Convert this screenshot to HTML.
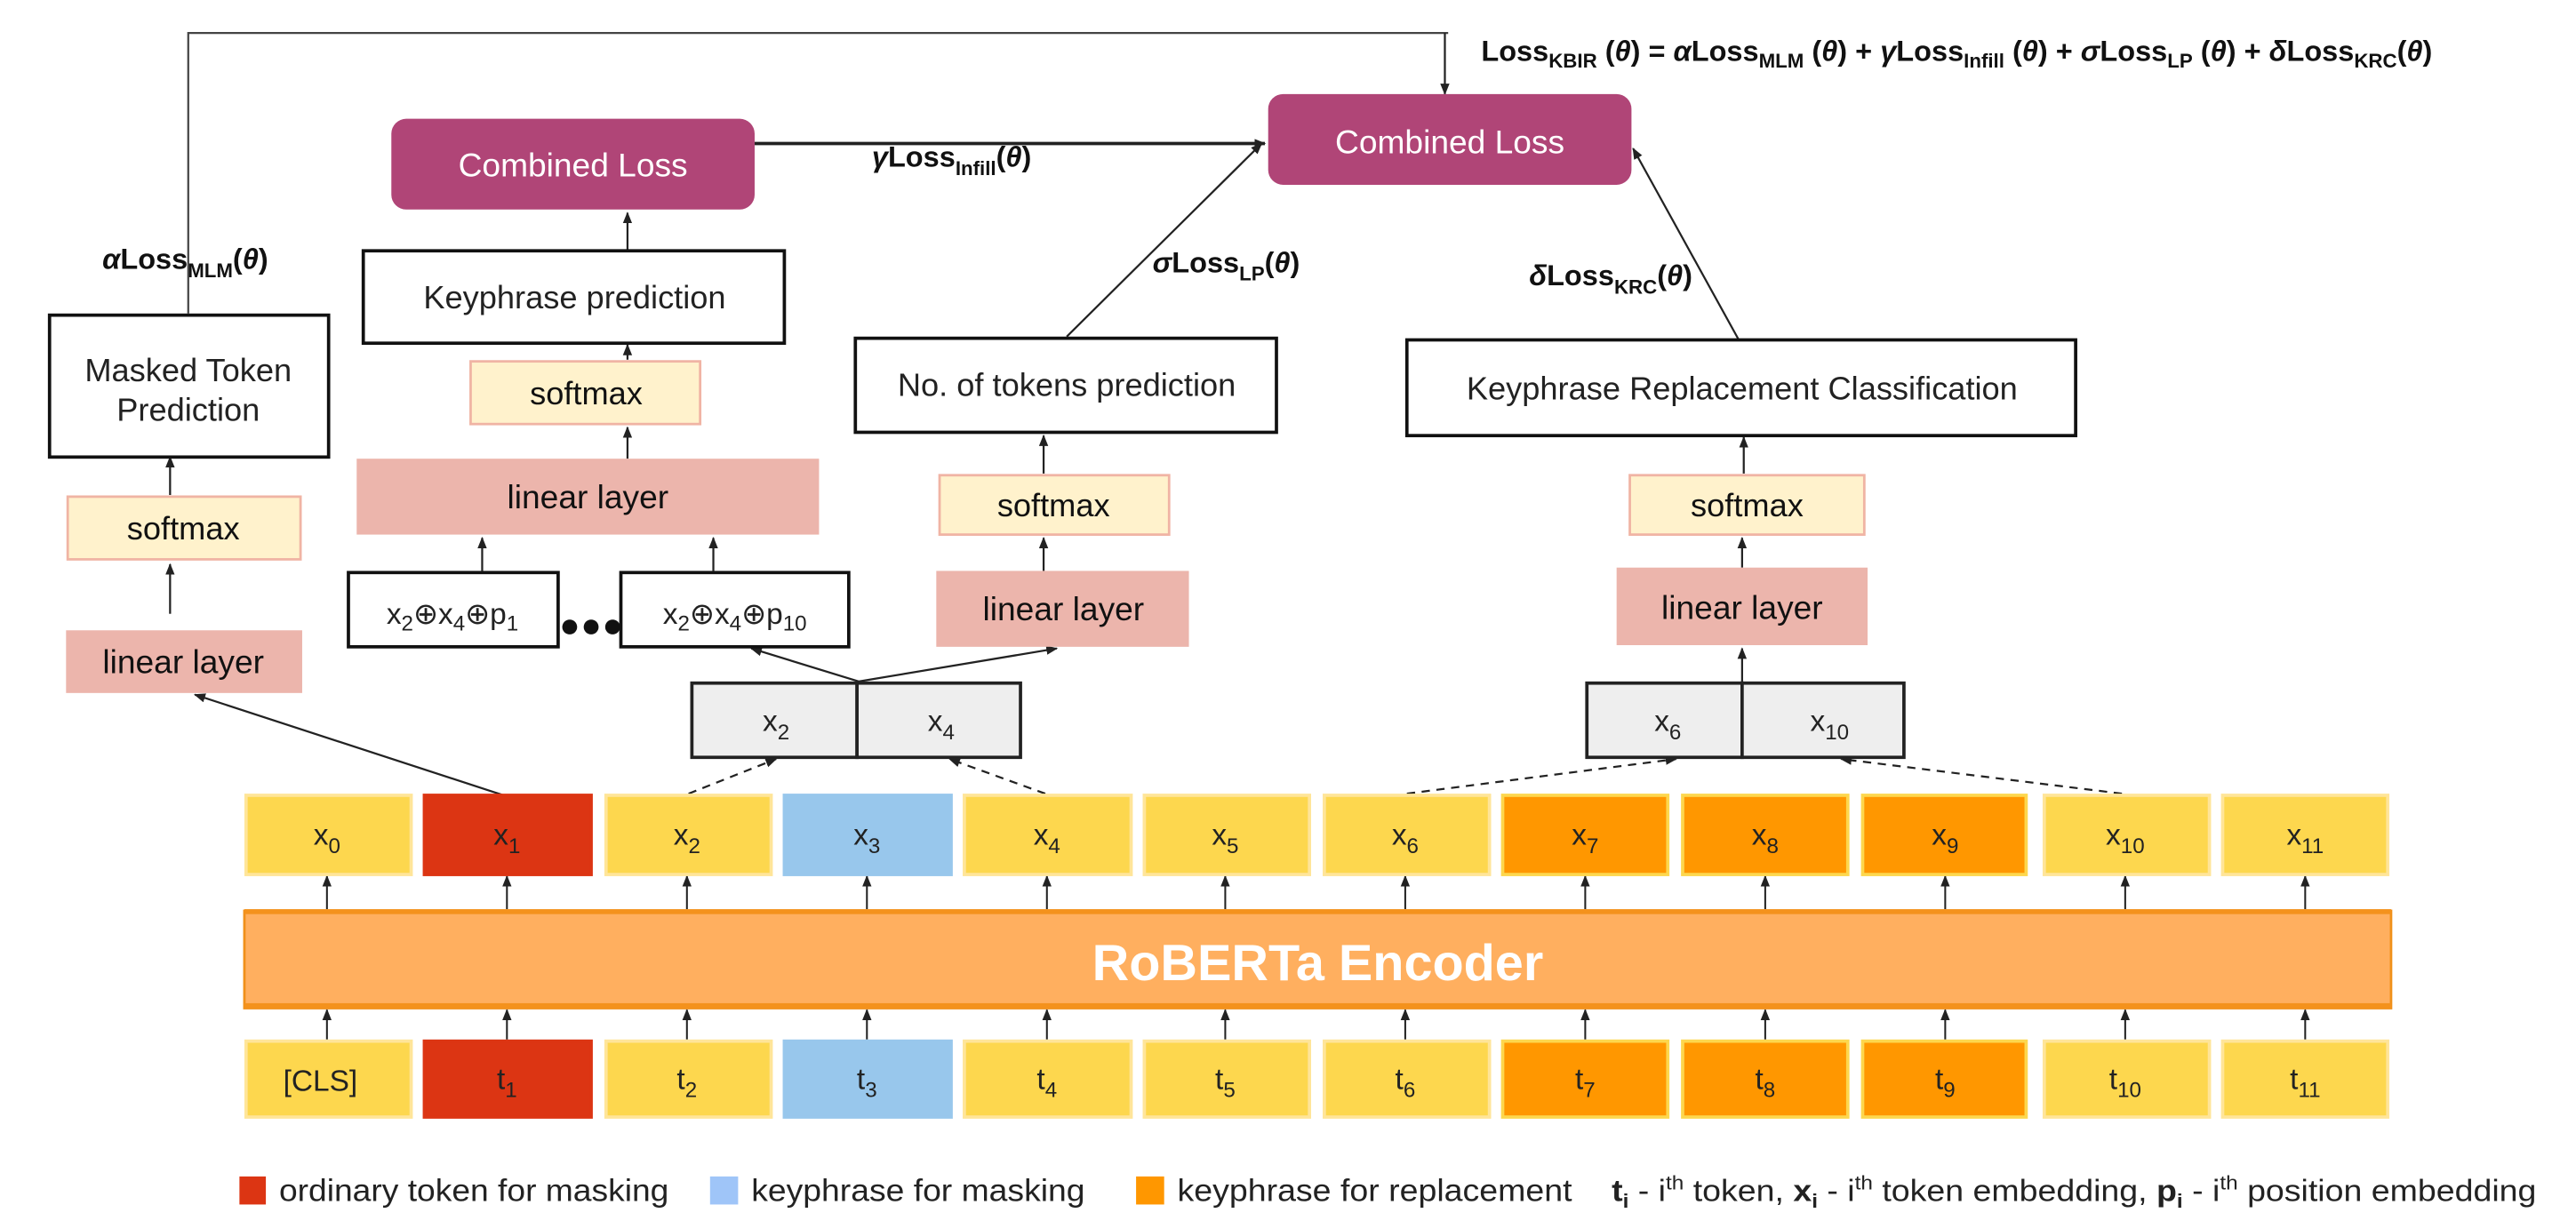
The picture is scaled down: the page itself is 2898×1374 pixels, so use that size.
<!DOCTYPE html>
<html><head><meta charset="utf-8"><style>
html,body{margin:0;padding:0;background:#fff;}
svg{display:block;}
text{font-family:"Liberation Sans",Arial,sans-serif;}
</style></head><body>
<svg width="2898" height="1374" viewBox="0 0 1560 740" preserveAspectRatio="none" xmlns="http://www.w3.org/2000/svg">
<defs>
<marker id="a" viewBox="0 0 10 10" refX="9" refY="5" markerWidth="7" markerHeight="7" orient="auto-start-reverse" markerUnits="userSpaceOnUse"><path d="M0,1 L10,5 L0,9 z" fill="#222"/></marker>
</defs>
<g stroke="#222" stroke-width="1.2" fill="none">
<polyline points="114,190 114,20 877,20" stroke="#444"/>
<line x1="875" y1="20" x2="875" y2="57" marker-end="url(#a)"/>
<line x1="457" y1="87" x2="766" y2="87" stroke-width="2" marker-end="url(#a)"/>
<line x1="646" y1="204" x2="764" y2="87" marker-end="url(#a)"/>
<line x1="1053" y1="206" x2="989" y2="90" marker-end="url(#a)"/>
<line x1="380" y1="152" x2="380" y2="129" marker-end="url(#a)"/>
<line x1="380" y1="218" x2="380" y2="209" marker-end="url(#a)"/>
<line x1="380" y1="278" x2="380" y2="259" marker-end="url(#a)"/>
<line x1="292" y1="346" x2="292" y2="326" marker-end="url(#a)"/>
<line x1="432" y1="346" x2="432" y2="326" marker-end="url(#a)"/>
<line x1="103" y1="300" x2="103" y2="277" marker-end="url(#a)"/>
<line x1="103" y1="372" x2="103" y2="342" marker-end="url(#a)"/>
<line x1="305" y1="482" x2="118" y2="421" marker-end="url(#a)"/>
<line x1="632" y1="287" x2="632" y2="264" marker-end="url(#a)"/>
<line x1="632" y1="346" x2="632" y2="326" marker-end="url(#a)"/>
<line x1="520" y1="413" x2="455" y2="393" marker-end="url(#a)"/>
<line x1="520" y1="413" x2="640" y2="393" marker-end="url(#a)"/>
<line x1="1056" y1="287" x2="1056" y2="265" marker-end="url(#a)"/>
<line x1="1055" y1="344" x2="1055" y2="326" marker-end="url(#a)"/>
<line x1="1055" y1="414" x2="1055" y2="393" marker-end="url(#a)"/>
<g stroke-dasharray="5,4">
<line x1="417" y1="481" x2="470" y2="460" marker-end="url(#a)"/>
<line x1="633" y1="481" x2="575" y2="460" marker-end="url(#a)"/>
<line x1="852" y1="481" x2="1015" y2="460" marker-end="url(#a)"/>
<line x1="1285" y1="481" x2="1115" y2="460" marker-end="url(#a)"/>
</g>
</g>
<rect x="237" y="72" width="220" height="55" rx="9" fill="#b04577"/>
<text x="347" y="107" font-size="20" fill="#fff" text-anchor="middle">Combined Loss</text>
<rect x="768" y="57" width="220" height="55" rx="9" fill="#b04577"/>
<text x="878" y="93" font-size="20" fill="#fff" text-anchor="middle">Combined Loss</text>
<text x="897" y="37" font-size="17.5" font-weight="bold" fill="#111">Loss<tspan font-size="12" dy="4">KBIR</tspan><tspan dy="-4"> (</tspan><tspan font-style="italic">θ</tspan>) = <tspan font-style="italic">α</tspan>Loss<tspan font-size="12" dy="4">MLM</tspan><tspan dy="-4"> (</tspan><tspan font-style="italic">θ</tspan>) + <tspan font-style="italic">γ</tspan>Loss<tspan font-size="12" dy="4">Infill</tspan><tspan dy="-4"> (</tspan><tspan font-style="italic">θ</tspan>) + <tspan font-style="italic">σ</tspan>Loss<tspan font-size="12" dy="4">LP</tspan><tspan dy="-4"> (</tspan><tspan font-style="italic">θ</tspan>) + <tspan font-style="italic">δ</tspan>Loss<tspan font-size="12" dy="4">KRC</tspan><tspan dy="-4">(</tspan><tspan font-style="italic">θ</tspan>)</text>
<g font-size="17.5" font-weight="bold" fill="#111">
<text x="528" y="101"><tspan font-style="italic">γ</tspan>Loss<tspan font-size="12" dy="5">Infill</tspan><tspan dy="-5">(</tspan><tspan font-style="italic">θ</tspan>)</text>
<text x="62" y="163"><tspan font-style="italic">α</tspan>Loss<tspan font-size="12" dy="5">MLM</tspan><tspan dy="-5">(</tspan><tspan font-style="italic">θ</tspan>)</text>
<text x="698" y="165"><tspan font-style="italic">σ</tspan>Loss<tspan font-size="12" dy="5">LP</tspan><tspan dy="-5">(</tspan><tspan font-style="italic">θ</tspan>)</text>
<text x="926" y="173"><tspan font-style="italic">δ</tspan>Loss<tspan font-size="12" dy="5">KRC</tspan><tspan dy="-5">(</tspan><tspan font-style="italic">θ</tspan>)</text>
</g>
<g fill="#fff" stroke="#111" stroke-width="2">
<rect x="30" y="191" width="169" height="86"/>
<rect x="220" y="152" width="255" height="56"/>
<rect x="518" y="205" width="255" height="57"/>
<rect x="852" y="206" width="405" height="58"/>
<rect x="211" y="347" width="127" height="45"/>
<rect x="376" y="347" width="138" height="45"/>
</g>
<g font-size="19.5" fill="#222" text-anchor="middle">
<text x="114" y="231">Masked Token</text>
<text x="114" y="255">Prediction</text>
<text x="348" y="187">Keyphrase prediction</text>
<text x="646" y="240">No. of tokens prediction</text>
<text x="1055" y="242">Keyphrase Replacement Classification</text>
</g>
<g font-size="18" fill="#222" text-anchor="middle">
<text x="274" y="378">x<tspan font-size="13" dy="4">2</tspan><tspan dy="-4">⊕x</tspan><tspan font-size="13" dy="4">4</tspan><tspan dy="-4">⊕p</tspan><tspan font-size="13" dy="4">1</tspan></text>
<text x="445" y="378">x<tspan font-size="13" dy="4">2</tspan><tspan dy="-4">⊕x</tspan><tspan font-size="13" dy="4">4</tspan><tspan dy="-4">⊕p</tspan><tspan font-size="13" dy="4">10</tspan></text>
</g>
<g fill="#111"><circle cx="345" cy="380" r="4.5"/><circle cx="358" cy="380" r="4.5"/><circle cx="371" cy="380" r="4.5"/></g>
<g fill="#fff2cc" stroke="#f0b4a4" stroke-width="1.5">
<rect x="41" y="301" width="141" height="38"/>
<rect x="285" y="219" width="139" height="38"/>
<rect x="569" y="288" width="139" height="36"/>
<rect x="987" y="288" width="142" height="36"/>
</g>
<g font-size="19.5" fill="#111" text-anchor="middle">
<text x="111" y="327">softmax</text>
<text x="355" y="245">softmax</text>
<text x="638" y="313">softmax</text>
<text x="1058" y="313">softmax</text>
</g>
<g fill="#ecb5ac">
<rect x="40" y="382" width="143" height="38"/>
<rect x="216" y="278" width="280" height="46"/>
<rect x="567" y="346" width="153" height="46"/>
<rect x="979" y="344" width="152" height="47"/>
</g>
<g font-size="20" fill="#111" text-anchor="middle">
<text x="111" y="408">linear layer</text>
<text x="356" y="308">linear layer</text>
<text x="644" y="376">linear layer</text>
<text x="1055" y="375">linear layer</text>
</g>
<g fill="#eeeeee" stroke="#222" stroke-width="2">
<rect x="419" y="414" width="100" height="45"/><rect x="519" y="414" width="99" height="45"/>
<rect x="961" y="414" width="94" height="45"/><rect x="1055" y="414" width="98" height="45"/>
</g>
<g font-size="18" fill="#222" text-anchor="middle">
<text x="470" y="443">x<tspan font-size="13" dy="5">2</tspan></text>
<text x="570" y="443">x<tspan font-size="13" dy="5">4</tspan></text>
<text x="1010" y="443">x<tspan font-size="13" dy="5">6</tspan></text>
<text x="1108" y="443">x<tspan font-size="13" dy="5">10</tspan></text>
</g>
<g stroke="#222" stroke-width="1.1">
<line x1="198" y1="551" x2="198" y2="531" marker-end="url(#a)"/><line x1="198" y1="630" x2="198" y2="612" marker-end="url(#a)"/>
<line x1="307" y1="551" x2="307" y2="531" marker-end="url(#a)"/><line x1="307" y1="630" x2="307" y2="612" marker-end="url(#a)"/>
<line x1="416" y1="551" x2="416" y2="531" marker-end="url(#a)"/><line x1="416" y1="630" x2="416" y2="612" marker-end="url(#a)"/>
<line x1="525" y1="551" x2="525" y2="531" marker-end="url(#a)"/><line x1="525" y1="630" x2="525" y2="612" marker-end="url(#a)"/>
<line x1="634" y1="551" x2="634" y2="531" marker-end="url(#a)"/><line x1="634" y1="630" x2="634" y2="612" marker-end="url(#a)"/>
<line x1="742" y1="551" x2="742" y2="531" marker-end="url(#a)"/><line x1="742" y1="630" x2="742" y2="612" marker-end="url(#a)"/>
<line x1="851" y1="551" x2="851" y2="531" marker-end="url(#a)"/><line x1="851" y1="630" x2="851" y2="612" marker-end="url(#a)"/>
<line x1="960" y1="551" x2="960" y2="531" marker-end="url(#a)"/><line x1="960" y1="630" x2="960" y2="612" marker-end="url(#a)"/>
<line x1="1069" y1="551" x2="1069" y2="531" marker-end="url(#a)"/><line x1="1069" y1="630" x2="1069" y2="612" marker-end="url(#a)"/>
<line x1="1178" y1="551" x2="1178" y2="531" marker-end="url(#a)"/><line x1="1178" y1="630" x2="1178" y2="612" marker-end="url(#a)"/>
<line x1="1287" y1="551" x2="1287" y2="531" marker-end="url(#a)"/><line x1="1287" y1="630" x2="1287" y2="612" marker-end="url(#a)"/>
<line x1="1396" y1="551" x2="1396" y2="531" marker-end="url(#a)"/><line x1="1396" y1="630" x2="1396" y2="612" marker-end="url(#a)"/>
</g>
<rect x="148" y="552" width="1300" height="59" fill="#ffaf5f" stroke="#f0901a" stroke-width="1.5"/>
<rect x="148" y="551" width="1300" height="3" fill="#f4921c"/>
<rect x="148" y="608" width="1300" height="3" fill="#f4921c"/>
<text x="798" y="594" font-size="31" font-weight="bold" fill="#fff" text-anchor="middle">RoBERTa Encoder</text>
<g stroke-width="2">
<rect x="149" y="482" width="100" height="48" fill="#fdd74e" stroke="#ffe599"/>
<rect x="257" y="482" width="101" height="48" fill="#dc3513" stroke="#dc3513"/>
<rect x="367" y="482" width="100" height="48" fill="#fdd74e" stroke="#ffe599"/>
<rect x="475" y="482" width="101" height="48" fill="#98c7ec" stroke="#98c7ec"/>
<rect x="584" y="482" width="101" height="48" fill="#fdd74e" stroke="#ffe599"/>
<rect x="693" y="482" width="100" height="48" fill="#fdd74e" stroke="#ffe599"/>
<rect x="802" y="482" width="100" height="48" fill="#fdd74e" stroke="#ffe599"/>
<rect x="910" y="482" width="100" height="48" fill="#ff9700" stroke="#fdd74e"/>
<rect x="1019" y="482" width="100" height="48" fill="#ff9700" stroke="#fdd74e"/>
<rect x="1128" y="482" width="99" height="48" fill="#ff9700" stroke="#fdd74e"/>
<rect x="1238" y="482" width="100" height="48" fill="#fdd74e" stroke="#ffe599"/>
<rect x="1346" y="482" width="100" height="48" fill="#fdd74e" stroke="#ffe599"/>
<rect x="149" y="631" width="100" height="46" fill="#fdd74e" stroke="#ffe599"/>
<rect x="257" y="631" width="101" height="46" fill="#dc3513" stroke="#dc3513"/>
<rect x="367" y="631" width="100" height="46" fill="#fdd74e" stroke="#ffe599"/>
<rect x="475" y="631" width="101" height="46" fill="#98c7ec" stroke="#98c7ec"/>
<rect x="584" y="631" width="101" height="46" fill="#fdd74e" stroke="#ffe599"/>
<rect x="693" y="631" width="100" height="46" fill="#fdd74e" stroke="#ffe599"/>
<rect x="802" y="631" width="100" height="46" fill="#fdd74e" stroke="#ffe599"/>
<rect x="910" y="631" width="100" height="46" fill="#ff9700" stroke="#fdd74e"/>
<rect x="1019" y="631" width="100" height="46" fill="#ff9700" stroke="#fdd74e"/>
<rect x="1128" y="631" width="99" height="46" fill="#ff9700" stroke="#fdd74e"/>
<rect x="1238" y="631" width="100" height="46" fill="#fdd74e" stroke="#ffe599"/>
<rect x="1346" y="631" width="100" height="46" fill="#fdd74e" stroke="#ffe599"/>
</g>
<g font-size="18" fill="#222" text-anchor="middle">
<text x="198" y="512">x<tspan font-size="13" dy="5">0</tspan></text>
<text x="307" y="512">x<tspan font-size="13" dy="5">1</tspan></text>
<text x="416" y="512">x<tspan font-size="13" dy="5">2</tspan></text>
<text x="525" y="512">x<tspan font-size="13" dy="5">3</tspan></text>
<text x="634" y="512">x<tspan font-size="13" dy="5">4</tspan></text>
<text x="742" y="512">x<tspan font-size="13" dy="5">5</tspan></text>
<text x="851" y="512">x<tspan font-size="13" dy="5">6</tspan></text>
<text x="960" y="512">x<tspan font-size="13" dy="5">7</tspan></text>
<text x="1069" y="512">x<tspan font-size="13" dy="5">8</tspan></text>
<text x="1178" y="512">x<tspan font-size="13" dy="5">9</tspan></text>
<text x="1287" y="512">x<tspan font-size="13" dy="5">10</tspan></text>
<text x="1396" y="512">x<tspan font-size="13" dy="5">11</tspan></text>
<text x="194" y="661">[CLS]</text>
<text x="307" y="660">t<tspan font-size="13" dy="5">1</tspan></text>
<text x="416" y="660">t<tspan font-size="13" dy="5">2</tspan></text>
<text x="525" y="660">t<tspan font-size="13" dy="5">3</tspan></text>
<text x="634" y="660">t<tspan font-size="13" dy="5">4</tspan></text>
<text x="742" y="660">t<tspan font-size="13" dy="5">5</tspan></text>
<text x="851" y="660">t<tspan font-size="13" dy="5">6</tspan></text>
<text x="960" y="660">t<tspan font-size="13" dy="5">7</tspan></text>
<text x="1069" y="660">t<tspan font-size="13" dy="5">8</tspan></text>
<text x="1178" y="660">t<tspan font-size="13" dy="5">9</tspan></text>
<text x="1287" y="660">t<tspan font-size="13" dy="5">10</tspan></text>
<text x="1396" y="660">t<tspan font-size="13" dy="5">11</tspan></text>
</g>
<rect x="145" y="713" width="16" height="17" fill="#dc3513"/>
<rect x="430" y="713" width="17" height="17" fill="#9fc5f8"/>
<rect x="688" y="713" width="17" height="17" fill="#ff9700"/>
<g font-size="19" fill="#222">
<text x="169" y="728" textLength="236" lengthAdjust="spacingAndGlyphs">ordinary token for masking</text>
<text x="455" y="728" textLength="202" lengthAdjust="spacingAndGlyphs">keyphrase for masking</text>
<text x="713" y="728" textLength="239" lengthAdjust="spacingAndGlyphs">keyphrase for replacement</text>
<text x="976" y="728" font-size="18.5" textLength="560" lengthAdjust="spacingAndGlyphs"><tspan font-weight="bold">t</tspan><tspan font-size="12" dy="4" font-weight="bold">i</tspan><tspan dy="-4"> - i</tspan><tspan font-size="12" dy="-7">th</tspan><tspan dy="7"> token, </tspan><tspan font-weight="bold">x</tspan><tspan font-size="12" dy="4" font-weight="bold">i</tspan><tspan dy="-4"> - i</tspan><tspan font-size="12" dy="-7">th</tspan><tspan dy="7"> token embedding, </tspan><tspan font-weight="bold">p</tspan><tspan font-size="12" dy="4" font-weight="bold">i</tspan><tspan dy="-4"> - i</tspan><tspan font-size="12" dy="-7">th</tspan><tspan dy="7"> position embedding</tspan></text>
</g>
</svg>
</body></html>
